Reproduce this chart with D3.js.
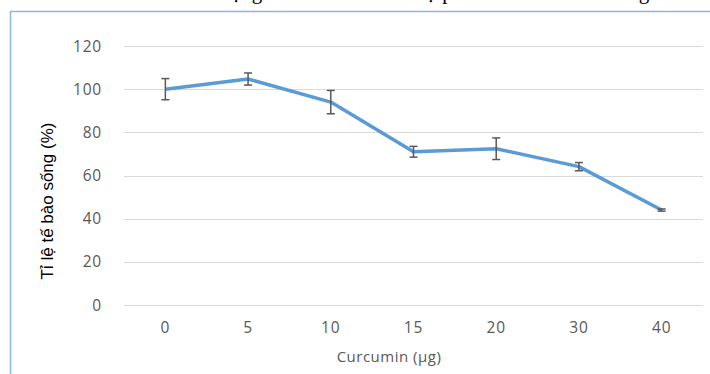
<!DOCTYPE html>
<html>
<head>
<meta charset="utf-8">
<script src="https://cdn.jsdelivr.net/npm/d3@7"></script>
<style>
  body { margin: 0; background: #fff; }
  svg { display: block; }
</style>
</head>
<body>
<svg width="710" height="374"></svg>
<script>
var doses = ["0", "5", "10", "15", "20", "30", "40"];
var survival = [100, 104.7, 94, 71, 72.4, 64.1, 44];
var errors = [4.9, 2.8, 5.4, 2.5, 5, 1.9, 0.5];
var yTicks = [0, 20, 40, 60, 80, 100, 120];

var svg = d3.select("svg"),
    width = +svg.attr("width"),
    height = +svg.attr("height");

// caption of the document, cut off at the top (only descenders show)
svg.append("text")
    .attr("x", 100)
    .attr("y", -1.5)
    .attr("font-family", "Liberation Serif")
    .attr("font-size", 21)
    .attr("fill", "#000")
    .text("Hình 3.4. Tác dụng của curcumin lên sự phát triển của tế bào ung thư");

// chart frame
svg.append("rect")
    .attr("x", 10.5)
    .attr("y", 11.5)
    .attr("width", 720)
    .attr("height", 400)
    .attr("fill", "none")
    .attr("stroke", "#8eb4e3")
    .attr("stroke-width", 1.5);

var x = d3.scalePoint()
    .domain(doses)
    .range([124, 703])
    .padding(0.5);

var y = d3.scaleLinear()
    .domain([0, 120])
    .range([305, 46]);

// gridlines
svg.append("g")
    .selectAll("line")
    .data(yTicks)
    .enter().append("line")
    .attr("x1", 124)
    .attr("x2", 703)
    .attr("y1", function(d) { return Math.round(y(d)) + 0.5; })
    .attr("y2", function(d) { return Math.round(y(d)) + 0.5; })
    .attr("stroke", "#d9d9d9")
    .attr("stroke-width", 1);

// y tick labels
svg.append("g")
    .selectAll("text")
    .data(yTicks)
    .enter().append("text")
    .attr("x", 102)
    .attr("y", function(d) { return y(d); })
    .attr("dy", "0.36em")
    .attr("text-anchor", "end")
    .attr("font-family", "Open Sans")
    .attr("font-size", 15.5)
    .attr("letter-spacing", 0.8)
    .attr("fill", "#595959")
    .text(function(d) { return d; });

// x tick labels
svg.append("g")
    .selectAll("text")
    .data(doses)
    .enter().append("text")
    .attr("x", function(d) { return x(d); })
    .attr("y", 333)
    .attr("text-anchor", "middle")
    .attr("font-family", "Open Sans")
    .attr("font-size", 15.5)
    .attr("letter-spacing", 0.8)
    .attr("fill", "#595959")
    .text(function(d) { return d; });

// axis titles
svg.append("text")
    .attr("transform", "translate(53,201) rotate(-90)")
    .attr("text-anchor", "middle")
    .attr("font-family", "Liberation Sans")
    .attr("font-size", 17)
    .attr("fill", "#000")
    .text("Tỉ lệ tế bào sống (%)");

svg.append("text")
    .attr("x", 389)
    .attr("y", 362)
    .attr("text-anchor", "middle")
    .attr("font-family", "Open Sans")
    .attr("font-size", 15)
    .attr("letter-spacing", 0.5)
    .attr("fill", "#595959")
    .text("Curcumin (µg)");

// data line
var line = d3.line()
    .x(function(d, i) { return x(doses[i]); })
    .y(function(d) { return y(d); });

svg.append("path")
    .datum(survival)
    .attr("d", line)
    .attr("fill", "none")
    .attr("stroke", "#5b9bd5")
    .attr("stroke-width", 3.5)
    .attr("stroke-linejoin", "round");

// error bars
var eb = svg.append("g")
    .attr("stroke", "#595959")
    .attr("stroke-width", 1.5)
    .selectAll("g")
    .data(survival)
    .enter().append("g");

eb.append("line")
    .attr("x1", function(d, i) { return x(doses[i]); })
    .attr("x2", function(d, i) { return x(doses[i]); })
    .attr("y1", function(d, i) { return y(d + errors[i]); })
    .attr("y2", function(d, i) { return y(d - errors[i]); });

eb.append("line")
    .attr("x1", function(d, i) { return x(doses[i]) - 4; })
    .attr("x2", function(d, i) { return x(doses[i]) + 4; })
    .attr("y1", function(d, i) { return y(d + errors[i]); })
    .attr("y2", function(d, i) { return y(d + errors[i]); });

eb.append("line")
    .attr("x1", function(d, i) { return x(doses[i]) - 4; })
    .attr("x2", function(d, i) { return x(doses[i]) + 4; })
    .attr("y1", function(d, i) { return y(d - errors[i]); })
    .attr("y2", function(d, i) { return y(d - errors[i]); });
</script>
</body>
</html>
